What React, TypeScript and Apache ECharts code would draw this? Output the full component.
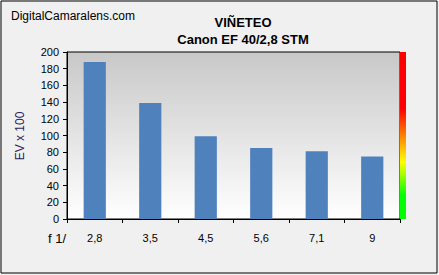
import React, { useEffect, useRef } from "react";
import * as echarts from "echarts";

const categories = ["2,8", "3,5", "4,5", "5,6", "7,1", "9"];
const vignetting = [188, 139, 99, 85, 81, 75];
const titleLines = ["VIÑETEO", "Canon EF 40/2,8 STM"];
const siteLabel = "DigitalCamaralens.com";
const yAxisName = "EV x 100";
const xAxisName = "f 1/";

const FONT = "'Liberation Sans', Arial, sans-serif";

export default function App() {
  const ref = useRef<HTMLDivElement>(null);
  useEffect(() => {
    if (!ref.current) return;
    const chart = echarts.init(ref.current, null, { renderer: "svg" });
    const gridLeft = 67;
    const gridTop = 52;
    const gridW = 333;
    const gridH = 167;
    chart.setOption({
      animation: false,
      backgroundColor: "#f0f0f0",
      textStyle: { fontFamily: FONT },
      grid: {
        left: gridLeft,
        top: gridTop,
        width: gridW,
        height: gridH,
        show: true,
        borderColor: "#000",
        borderWidth: 1,
        backgroundColor: {
          type: "linear",
          x: 0,
          y: 0,
          x2: 0,
          y2: 1,
          colorStops: [
            { offset: 0, color: "#c8c8c8" },
            { offset: 1, color: "#ffffff" },
          ],
        },
      },
      xAxis: {
        type: "category",
        data: categories,
        boundaryGap: true,
        axisLine: { show: true, lineStyle: { color: "#000", width: 1 } },
        axisTick: { show: true, length: 4, lineStyle: { color: "#000" } },
        axisLabel: { color: "#000", fontSize: 11, fontFamily: FONT, margin: 13 },
        splitLine: { show: false },
      },
      yAxis: {
        type: "value",
        min: 0,
        max: 200,
        interval: 20,
        axisLine: { show: true, lineStyle: { color: "#000", width: 1 } },
        axisTick: { show: true, length: 4, lineStyle: { color: "#000" } },
        axisLabel: { color: "#000", fontSize: 11, fontFamily: FONT, margin: 8 },
        splitLine: { show: false },
      },
      series: [
        {
          type: "bar",
          data: vignetting,
          barWidth: "40%",
          itemStyle: { color: "#4f81bd" },
        },
      ],
      graphic: [
        {
          type: "rect",
          shape: { x: 1, y: 1, width: 436, height: 272 },
          style: { fill: "none", stroke: "#000", lineWidth: 1 },
          z: 100,
        },
        {
          type: "rect",
          shape: { x: gridLeft + gridW, y: gridTop, width: 6, height: gridH },
          style: {
            fill: {
              type: "linear",
              x: 0,
              y: 0,
              x2: 0,
              y2: 1,
              colorStops: [
                { offset: 0, color: "#ff0000" },
                { offset: 0.34, color: "#ff0000" },
                { offset: 0.52, color: "#ff9000" },
                { offset: 0.66, color: "#ffff00" },
                { offset: 0.86, color: "#00ff00" },
                { offset: 1, color: "#00ff00" },
              ],
            },
          },
          z: 100,
        },
        {
          type: "text",
          x: 11,
          y: 16,
          style: {
            text: siteLabel,
            fill: "#000",
            font: `12px ${FONT}`,
            textAlign: "left",
            textVerticalAlign: "middle",
          },
        },
        {
          type: "text",
          x: 243,
          y: 22,
          style: {
            text: titleLines[0],
            fill: "#000",
            font: `bold 13px ${FONT}`,
            textAlign: "center",
            textVerticalAlign: "middle",
          },
        },
        {
          type: "text",
          x: 243,
          y: 39,
          style: {
            text: titleLines[1],
            fill: "#000",
            font: `bold 13px ${FONT}`,
            textAlign: "center",
            textVerticalAlign: "middle",
          },
        },
        {
          type: "text",
          x: 20,
          y: 136,
          rotation: Math.PI / 2,
          style: {
            text: yAxisName,
            fill: "#2a1a5e",
            font: `12px ${FONT}`,
            textAlign: "center",
            textVerticalAlign: "middle",
          },
        },
        {
          type: "text",
          x: 48,
          y: 238,
          style: {
            text: xAxisName,
            fill: "#000",
            font: `13px ${FONT}`,
            textAlign: "left",
            textVerticalAlign: "middle",
          },
        },
      ],
    });
    return () => chart.dispose();
  }, []);
  return (
    <div
      ref={ref}
      style={{ position: "fixed", left: 0, top: 0, width: 439, height: 275 }}
    />
  );
}
